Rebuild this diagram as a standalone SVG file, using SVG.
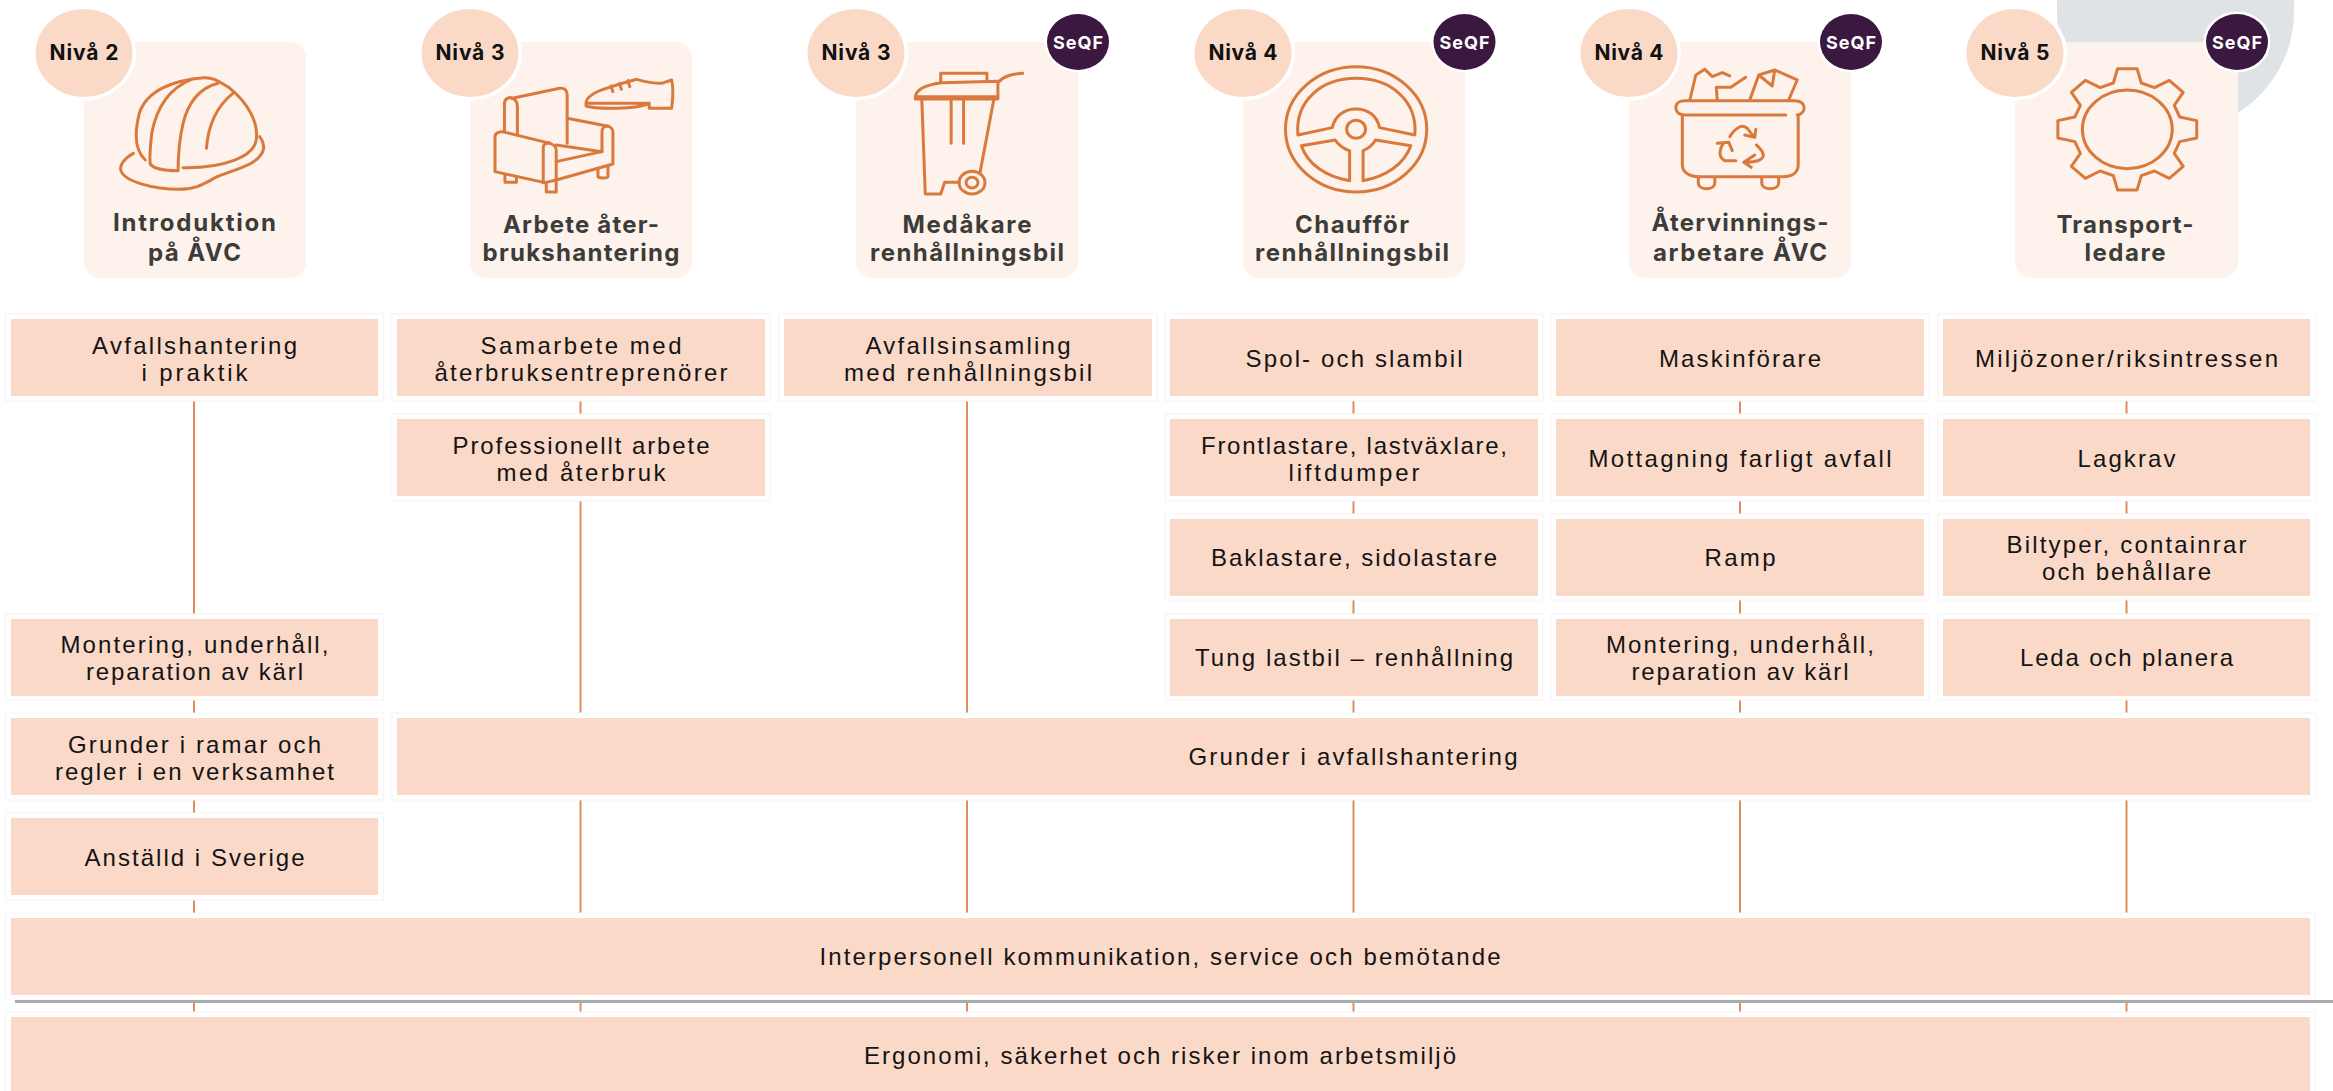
<svg xmlns="http://www.w3.org/2000/svg" width="2333" height="1091" viewBox="0 0 2333 1091">
<style>
.card{fill:#fdf2ec}
.lvl{fill:#fbd9c7;stroke:#fff;stroke-width:7;paint-order:stroke}
.sq{fill:#3b1840;stroke:#fff;stroke-width:5;paint-order:stroke}
.box{fill:#fbd9c8}
.halo{fill:#fff;stroke:#f5f3f3;stroke-width:1}
.ic{fill:none;stroke:#d97a3c;stroke-width:3;stroke-linejoin:round;stroke-linecap:round}
.ic *{vector-effect:non-scaling-stroke}
text{font-family:"Inter","Liberation Sans",sans-serif;text-anchor:middle}
.t{font-size:24px;font-weight:700;fill:#3c3c3b}
.n{font-size:21px;font-weight:700;fill:#111}
.s{font-size:18px;font-weight:700;fill:#fff}
.b{font-family:"Liberation Sans",sans-serif;font-size:24px;fill:#141414}
.conn{stroke:#e08c5e;stroke-width:2;fill:none}
</style>
<path d="M2057 0H2294V12A118.500 118.500 0 0 1 2057 12Z" fill="#dfe3e6"/>
<g id="connectors" class="conn">
<path d="M194 319V1017M580.500 319V1017M967 319V1017M1353.500 319V1017M1740 319V1017M2126.500 319V1017"/>
</g>

<g id="role-1">
<rect class="card" x="84" y="42" width="222" height="236" rx="16"/>
<ellipse class="lvl" cx="84" cy="53" rx="48.500" ry="44"/>
<text class="n" x="84" y="60" textLength="69">Nivå 2</text>
<g class="ic" transform="scale(.4975 .3333)">
<path d="M292 480C270 450 270 400 280 340C295 270 350 240 410 233C430 232 440 245 460 262C500 310 520 370 515 420C510 470 450 505 368 503"/>
<path d="M385 238C340 265 315 320 305 400C302 440 300 470 302 492C310 508 335 512 358 512C358 470 360 420 368 370C378 310 400 265 438 250"/>
<path d="M415 445C418 380 435 320 468 280"/>
<path d="M268 460C250 475 240 495 243 512C250 545 310 568 360 568C400 568 415 545 440 528C480 505 525 490 530 445C530 430 526 418 522 410"/>
</g>
<text class="t" x="194.500" y="231" textLength="163">Introduktion</text>
<text class="t" x="194.500" y="261" textLength="93">på ÅVC</text>
</g>

<g id="role-2">
<rect class="card" x="470" y="42" width="222" height="236" rx="16"/>
<ellipse class="lvl" cx="470" cy="53" rx="48.500" ry="44"/>
<text class="n" x="470" y="60" textLength="69">Nivå 3</text>
<g class="ic" transform="scale(.4975 .3333)">
<path d="M1030 295L1125 265C1135 262 1140 272 1140 285V430"/>
<path d="M1014 395V310C1014 295 1025 290 1030 295C1038 300 1040 310 1040 320V405"/>
<path d="M1140 355L1220 378C1228 380 1232 388 1232 395V492L1118 540"/>
<path d="M1210 455V395C1210 385 1215 378 1222 378"/>
<path d="M995 515V410C995 398 1005 392 1018 398L1100 428C1112 432 1118 440 1118 450V540L1095 548L995 515Z"/>
<path d="M1092 548V440C1092 432 1100 428 1105 428"/>
<path d="M1118 435L1210 455L1118 485"/>
<path d="M1015 523V547H1038V530M1098 548V576H1118V542M1202 505V530C1205 535 1220 535 1222 530V497"/>
<path d="M1178 310C1178 290 1195 275 1225 262C1240 255 1260 245 1280 238C1295 245 1310 250 1330 250L1350 240C1355 270 1352 300 1350 325H1305V310ZM1178 310V318C1200 328 1280 328 1305 310M1228 258L1232 275M1245 250L1249 268M1262 242L1266 260"/>
</g>
<text class="t" x="581" y="233" textLength="156">Arbete åter-</text>
<text class="t" x="581" y="261" textLength="197">brukshantering</text>
</g>

<g id="role-3">
<rect class="card" x="856" y="42" width="222" height="236" rx="16"/>
<ellipse class="lvl" cx="856" cy="53" rx="48.500" ry="44"/>
<text class="n" x="856" y="60" textLength="69">Nivå 3</text>
<ellipse class="sq" cx="1078" cy="42" rx="31" ry="28"/>
<text class="s" x="1078" y="48.500" textLength="50">SeQF</text>
<g class="ic" transform="translate(780 0) scale(.4975 .3333)">
<path d="M272 297C270 270 290 255 325 248L438 244V297ZM272 290H438M323 246V220H416V246M438 248C450 228 465 222 488 220"/>
<path d="M285 297L292 582H323L331 547H360M430 297L402 518M344 297V430M369 297V430"/>
<ellipse cx="386" cy="548" rx="26" ry="34"/>
<ellipse cx="386" cy="548" rx="12" ry="16"/>
</g>
<text class="t" x="967" y="233" textLength="129">Medåkare</text>
<text class="t" x="967" y="261" textLength="194">renhållningsbil</text>
</g>

<g id="role-4">
<rect class="card" x="1243" y="42" width="222" height="236" rx="16"/>
<ellipse class="lvl" cx="1243" cy="53" rx="48.500" ry="44"/>
<text class="n" x="1243" y="60" textLength="69">Nivå 4</text>
<ellipse class="sq" cx="1464.500" cy="42" rx="31" ry="28"/>
<text class="s" x="1464.500" y="48.500" textLength="50">SeQF</text>
<g class="ic" transform="translate(780 0) scale(.4975 .3333)">
<ellipse cx="1158" cy="388" rx="142" ry="188"/>
<ellipse cx="1158" cy="388" rx="19" ry="27"/>
<path d="M1041 405C1035 300 1090 235 1158 235C1226 235 1282 300 1276 405L1205 383C1200 345 1180 327 1158 327C1136 327 1116 345 1110 383Z"/>
<path d="M1048 437L1116 420C1122 435 1135 448 1145 452V542C1095 530 1060 490 1048 437Z"/>
<path d="M1268 437L1197 420C1192 435 1180 448 1172 452V542C1220 530 1255 490 1268 437Z"/>
</g>
<text class="t" x="1352" y="233" textLength="114">Chaufför</text>
<text class="t" x="1352" y="261" textLength="194">renhållningsbil</text>
</g>

<g id="role-5">
<rect class="card" x="1629" y="42" width="222" height="236" rx="16"/>
<ellipse class="lvl" cx="1629" cy="53" rx="48.500" ry="44"/>
<text class="n" x="1629" y="60" textLength="69">Nivå 4</text>
<ellipse class="sq" cx="1851" cy="42" rx="31" ry="28"/>
<text class="s" x="1851" y="48.500" textLength="50">SeQF</text>
<g class="ic" transform="translate(1550 0) scale(.4994 .3333)">
<path d="M472 345H270C258 345 252 335 252 323C252 310 260 302 270 302H490C502 302 509 312 509 323C509 335 502 345 495 345"/>
<path d="M265 345V495C265 518 280 530 300 530H465C485 530 497 518 497 495V345"/>
<path d="M297 532V548C297 572 330 572 330 548V532M424 532V548C424 572 458 572 458 548V532"/>
<path d="M280 300L292 225L310 208L325 230L345 218L360 228M392 232L362 262H333L335 300M400 300L418 225L450 210L495 240L478 300M418 225L445 258L450 210"/>
<path d="M360 410C370 385 385 370 395 385L408 410M390 405L410 412L412 388"/>
<path d="M335 430L358 427L365 452M348 428C340 445 335 470 350 482H372"/>
<path d="M413 435C428 455 432 470 420 480C410 486 400 487 388 487M410 465L388 487L403 502"/>
</g>
<text class="t" x="1740" y="231" textLength="177">Återvinnings-</text>
<text class="t" x="1740" y="261" textLength="174">arbetare ÅVC</text>
</g>

<g id="role-6">
<rect class="card" x="2015" y="42" width="223" height="236" rx="16"/>
<ellipse class="lvl" cx="2015" cy="53" rx="48.500" ry="44"/>
<text class="n" x="2015" y="60" textLength="69">Nivå 5</text>
<ellipse class="sq" cx="2237" cy="42" rx="31" ry="28"/>
<text class="s" x="2237" y="48.500" textLength="50">SeQF</text>
<g class="ic" transform="translate(1550 0) scale(.4994 .3333)">
<path transform="translate(1156 388)" d="M-19.500-182H19.500L28-139L54.500-125L84-147L112-111L94-72L105-37L139-26V26L105 37L94 72L112 111L84 147L54.500 125L28 139L19.500 182H-19.500L-28 139L-54.500 125L-84 147L-112 111L-94 72L-105 37L-139 26V-26L-105-37L-94-72L-112-111L-84-147L-54.500-125L-28-139Z"/>
<ellipse cx="1156" cy="388" rx="90" ry="118"/>
</g>
<text class="t" x="2125" y="233" textLength="137">Transport-</text>
<text class="t" x="2125" y="261" textLength="81">ledare</text>
</g>

<g id="c1-r1"><rect class="halo" x="5.500" y="314" width="378" height="87"/><rect class="box" x="11" y="319" width="367" height="77"/><text class="b" x="194.500" y="354" textLength="205">Avfallshantering</text><text class="b" x="194.500" y="381" textLength="106">i praktik</text></g>
<g id="c1-r4"><rect class="halo" x="5.500" y="614" width="378" height="86"/><rect class="box" x="11" y="619" width="367" height="77"/><text class="b" x="194.500" y="653" textLength="268">Montering, underhåll,</text><text class="b" x="194.500" y="680" textLength="217">reparation av kärl</text></g>
<g id="c1-r5"><rect class="halo" x="5.500" y="713" width="378" height="87"/><rect class="box" x="11" y="718" width="367" height="77"/><text class="b" x="194.500" y="753" textLength="253">Grunder i ramar och</text><text class="b" x="194.500" y="780" textLength="279">regler i en verksamhet</text></g>
<g id="c1-r6"><rect class="halo" x="5.500" y="813" width="378" height="87"/><rect class="box" x="11" y="818" width="367" height="77"/><text class="b" x="194.500" y="866" textLength="220">Anställd i Sverige</text></g>

<g id="c2-r1"><rect class="halo" x="392" y="314" width="378" height="87"/><rect class="box" x="397" y="319" width="368" height="77"/><text class="b" x="581" y="354" textLength="201">Samarbete med</text><text class="b" x="581" y="381" textLength="293">återbruksentreprenörer</text></g>
<g id="c2-r2"><rect class="halo" x="392" y="414" width="378" height="87"/><rect class="box" x="397" y="419" width="368" height="77"/><text class="b" x="581" y="454" textLength="257">Professionellt arbete</text><text class="b" x="581" y="481" textLength="169">med återbruk</text></g>

<g id="c3-r1"><rect class="halo" x="779" y="314" width="378" height="87"/><rect class="box" x="784" y="319" width="368" height="77"/><text class="b" x="968" y="354" textLength="205">Avfallsinsamling</text><text class="b" x="968" y="381" textLength="248">med renhållningsbil</text></g>

<g id="c4-r1"><rect class="halo" x="1165" y="314" width="378" height="87"/><rect class="box" x="1170" y="319" width="368" height="77"/><text class="b" x="1354" y="367" textLength="217">Spol- och slambil</text></g>
<g id="c4-r2"><rect class="halo" x="1165" y="414" width="378" height="87"/><rect class="box" x="1170" y="419" width="368" height="77"/><text class="b" x="1354" y="454" textLength="306">Frontlastare, lastväxlare,</text><text class="b" x="1354" y="481" textLength="131">liftdumper</text></g>
<g id="c4-r3"><rect class="halo" x="1165" y="514" width="378" height="86"/><rect class="box" x="1170" y="519" width="368" height="77"/><text class="b" x="1354" y="566" textLength="286">Baklastare, sidolastare</text></g>
<g id="c4-r4"><rect class="halo" x="1165" y="614" width="378" height="86"/><rect class="box" x="1170" y="619" width="368" height="77"/><text class="b" x="1354" y="666" textLength="318">Tung lastbil – renhållning</text></g>

<g id="c5-r1"><rect class="halo" x="1551" y="314" width="378" height="87"/><rect class="box" x="1556" y="319" width="368" height="77"/><text class="b" x="1740" y="367" textLength="162">Maskinförare</text></g>
<g id="c5-r2"><rect class="halo" x="1551" y="414" width="378" height="87"/><rect class="box" x="1556" y="419" width="368" height="77"/><text class="b" x="1740" y="467" textLength="303">Mottagning farligt avfall</text></g>
<g id="c5-r3"><rect class="halo" x="1551" y="514" width="378" height="86"/><rect class="box" x="1556" y="519" width="368" height="77"/><text class="b" x="1740" y="566" textLength="71">Ramp</text></g>
<g id="c5-r4"><rect class="halo" x="1551" y="614" width="378" height="86"/><rect class="box" x="1556" y="619" width="368" height="77"/><text class="b" x="1740" y="653" textLength="268">Montering, underhåll,</text><text class="b" x="1740" y="680" textLength="217">reparation av kärl</text></g>

<g id="c6-r1"><rect class="halo" x="1938" y="314" width="378" height="87"/><rect class="box" x="1943" y="319" width="367" height="77"/><text class="b" x="2126.500" y="367" textLength="303">Miljözoner/riksintressen</text></g>
<g id="c6-r2"><rect class="halo" x="1938" y="414" width="378" height="87"/><rect class="box" x="1943" y="419" width="367" height="77"/><text class="b" x="2126.500" y="467" textLength="98">Lagkrav</text></g>
<g id="c6-r3"><rect class="halo" x="1938" y="514" width="378" height="86"/><rect class="box" x="1943" y="519" width="367" height="77"/><text class="b" x="2126.500" y="553" textLength="240">Biltyper, containrar</text><text class="b" x="2126.500" y="580" textLength="169">och behållare</text></g>
<g id="c6-r4"><rect class="halo" x="1938" y="614" width="378" height="86"/><rect class="box" x="1943" y="619" width="367" height="77"/><text class="b" x="2126.500" y="666" textLength="213">Leda och planera</text></g>

<g id="grunder"><rect class="halo" x="392" y="713" width="1924" height="87"/><rect class="box" x="397" y="718" width="1913" height="77"/><text class="b" x="1353" y="765" textLength="329">Grunder i avfallshantering</text></g>
<g id="interpersonell"><rect class="halo" x="5.500" y="913" width="2310" height="87"/><rect class="box" x="11" y="918" width="2299" height="77"/><text class="b" x="1160" y="965" textLength="681">Interpersonell kommunikation, service och bemötande</text></g>
<g id="ergonomi"><rect class="halo" x="5.500" y="1012" width="2310" height="90"/><rect class="box" x="11" y="1017" width="2299" height="80"/><text class="b" x="1160" y="1064" textLength="592">Ergonomi, säkerhet och risker inom arbetsmiljö</text></g>
<path d="M15 1001.500H2333" stroke="#aaaaaa" stroke-width="3" fill="none"/>
</svg>
